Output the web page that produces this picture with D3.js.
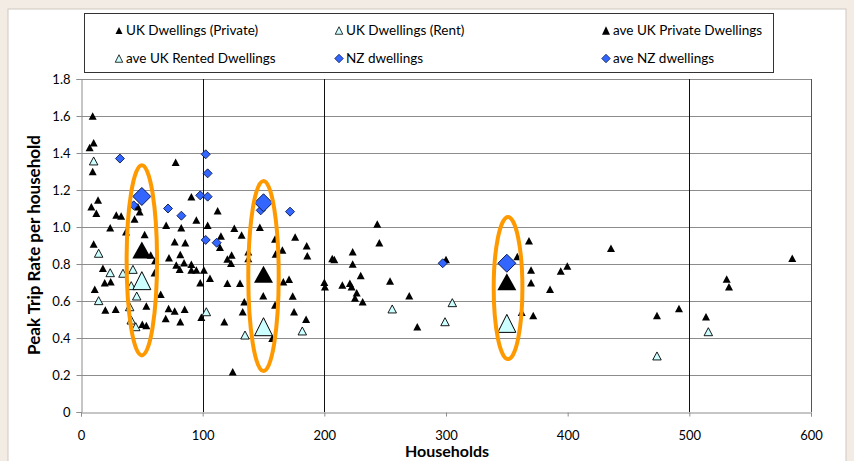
<!DOCTYPE html>
<html><head><meta charset="utf-8">
<script src="https://cdn.jsdelivr.net/npm/d3@7"></script>
<style>
html,body{margin:0;padding:0;background:#f3ece4;}
svg{display:block;font-family:Lato,"Open Sans",sans-serif;}
</style></head>
<body>
<svg id="chart" width="854" height="461"></svg>
<script>
// ---- data ----
const xTicks = [0,100,200,300,400,500,600];
const yTicks = [0,0.2,0.4,0.6,0.8,1.0,1.2,1.4,1.6,1.8];
const dividerLines = [100,200,500,600];

const ukPrivateX = [9.6,10.4,7.1,9.6,77.8,14,8.5,12.6,29,33,24,46.8,48.2,44,52.3,70,82.4,90.7,94.8,37,
 112.3,104.1,126,132,115,114.2,147,159.5,176,185.5,
 10.4,57.3,61,77,85.7,72.3,81.6,78.3,84.7,81.1,90.7,90.7,94.8,101,98,18,19.5,24.4,11.3,20,28.5,53.7,50.4,53.7,60.5,65.5,72,77,85.2,69.6,81.6,98.9,
 123.8,120.3,123.3,137.5,137.5,160,165.5,186,206.5,106,120.3,130.7,166.3,171,149.8,174,134.2,159.5,132.9,175.1,117.8,185,157.2,124.7,200,200.5,
 208.2,223.3,223.3,243.5,245.2,214.8,221,222.4,229.9,226.6,225.2,231.5,254,269.8,276.4,300,358.6,368.2,369.9,369.9,362.2,371.7,385.5,394.3,399.7,
 435.6,584.6,530.7,532.6,473.4,491.5,513.7];
const ukPrivateY = [1.60,1.456,1.43,1.30,1.35,1.146,1.11,1.074,1.065,1.06,0.996,1.11,1.083,1.043,0.96,1.01,0.996,1.164,1.038,0.975,
 1.088,1.01,0.993,0.957,0.951,0.89,0.998,0.935,0.946,0.898,
 0.908,0.849,0.82,0.92,0.915,0.834,0.852,0.795,0.807,0.771,0.798,0.768,0.768,0.768,0.699,0.777,0.699,0.704,0.663,0.551,0.555,0.573,0.474,0.467,0.753,0.636,0.56,0.546,0.555,0.506,0.488,0.512,
 0.849,0.827,0.804,0.866,0.83,0.854,0.876,0.845,0.83,0.723,0.696,0.696,0.704,0.717,0.629,0.627,0.596,0.578,0.542,0.542,0.488,0.501,0.398,0.218,0.701,0.677,
 0.825,0.866,0.80,1.016,0.915,0.686,0.696,0.677,0.738,0.645,0.616,0.596,0.708,0.629,0.461,0.825,0.84,0.926,0.768,0.699,0.539,0.521,0.663,0.762,0.789,
 0.885,0.831,0.719,0.677,0.521,0.56,0.515];

const ukRentX = [10.4,14.5,24,14.5,34.5,42.7,41.3,45.8,40,41.3,45,103,134.8,181.9,255.8,305.2,299.2,515.6,473.4];
const ukRentY = [1.357,0.858,0.753,0.602,0.75,0.771,0.683,0.627,0.569,0.497,0.461,0.542,0.416,0.438,0.557,0.591,0.488,0.434,0.303];

const nzX = [32,43.3,71.5,82.5,102.5,104.1,98,104.1,102.5,111.5,147.7,171.8,297.3];
const nzY = [1.37,1.117,1.10,1.061,1.393,1.29,1.171,1.164,0.93,0.915,1.09,1.083,0.804];

const aveX = [50,150,350];
const avePrivateY = [0.876,0.744,0.704];
const aveRentY = [0.71,0.461,0.479];
const aveNzY = [1.165,1.131,0.804];

// highlight ellipses (data units)
const ringX = [50,150,351];
const ringY = [0.82,0.735,0.67];
const ringHalfH = [0.514,0.514,0.384];
const ringHalfW = [12.5,12.5,11.8];

const legendLabels = ["UK Dwellings (Private)","UK Dwellings (Rent)","ave UK Private Dwellings",
                      "ave UK Rented Dwellings","NZ dwellings","ave NZ dwellings"];

// ---- drawing ----
const svg = d3.select("#chart");
const x = d3.scaleLinear().domain([0,600]).range([81,811]);
const y = d3.scaleLinear().domain([0,1.8]).range([412,79]);

// panel
svg.append("rect").attr("x",8).attr("y",9).attr("width",838).attr("height",460)
  .attr("fill","#fff").attr("stroke","#cfc8c0").attr("stroke-width",1);

// horizontal gridlines
svg.append("g").selectAll("line").data(yTicks.filter(d=>d>0)).join("line")
  .attr("x1",x(0)).attr("x2",x(600)).attr("y1",d=>Math.round(y(d))+0.5).attr("y2",d=>Math.round(y(d))+0.5)
  .attr("stroke","#8c8c8c").attr("stroke-width",1);

// vertical divider lines
svg.append("g").selectAll("line").data(dividerLines).join("line")
  .attr("x1",d=>Math.round(x(d))+0.5).attr("x2",d=>Math.round(x(d))+0.5)
  .attr("y1",y(1.8)).attr("y2",y(0))
  .attr("stroke",d=>d===600?"#555":"#111").attr("stroke-width",1);

// axes
const yAxis = svg.append("g").attr("transform","translate(81.5,0)")
  .call(d3.axisLeft(y).tickValues(yTicks).tickSize(5).tickPadding(6)
    .tickFormat(d=>d===0?"0":d3.format(".1f")(d)));
const xAxis = svg.append("g").attr("transform",`translate(0,${Math.round(y(0))+0.5})`)
  .call(d3.axisBottom(x).tickValues(xTicks).tickSize(4).tickPadding(14).tickFormat(d3.format("d")));
[yAxis,xAxis].forEach(a=>{
  a.select(".domain").attr("stroke","#8c8c8c");
  a.selectAll(".tick line").attr("stroke","#8c8c8c");
  a.selectAll(".tick text").attr("font-size","13px").attr("fill","#000")
   .attr("font-family","Lato,'Open Sans',sans-serif");
});

// axis titles
svg.append("text").attr("x",447).attr("y",457).attr("text-anchor","middle")
  .attr("font-size","16px").attr("font-weight","bold").text("Households");
svg.append("text").attr("transform","translate(40,245) rotate(-90)").attr("text-anchor","middle")
  .attr("font-size","17px").attr("font-weight","bold").text("Peak Trip Rate per household");

// marker paths
function tri(w,h){ return `M0,${-h/2}L${w/2},${h/2}L${-w/2},${h/2}Z`; }
function dia(s){ return `M0,${-s/2}L${s/2},0L0,${s/2}L${-s/2},0Z`; }

const plot = svg.append("g");
const zip = (xs,ys)=>xs.map((v,i)=>({x:v,y:ys[i]}));

plot.append("g").selectAll("path").data(zip(ukPrivateX,ukPrivateY)).join("path")
  .attr("transform",d=>`translate(${x(d.x)},${y(d.y)})`).attr("d",tri(8,7.5)).attr("fill","#000");
plot.append("g").selectAll("path").data(zip(ukRentX,ukRentY)).join("path")
  .attr("transform",d=>`translate(${x(d.x)},${y(d.y)})`).attr("d",tri(8.5,8))
  .attr("fill","#ccffff").attr("stroke","#000").attr("stroke-width",0.9);
plot.append("g").selectAll("path").data(zip(aveX,avePrivateY)).join("path")
  .attr("transform",d=>`translate(${x(d.x)},${y(d.y)})`).attr("d",tri(19,17)).attr("fill","#000");
plot.append("g").selectAll("path").data(zip(aveX,aveRentY)).join("path")
  .attr("transform",d=>`translate(${x(d.x)},${y(d.y)})`).attr("d",tri(18,18))
  .attr("fill","#ccffff").attr("stroke","#000").attr("stroke-width",1);
plot.append("g").selectAll("path").data(zip(nzX,nzY)).join("path")
  .attr("transform",d=>`translate(${x(d.x)},${y(d.y)})`).attr("d",dia(9))
  .attr("fill","#3366ff").attr("stroke","#0a1a50").attr("stroke-width",0.9);
plot.append("g").selectAll("path").data(zip(aveX,aveNzY)).join("path")
  .attr("transform",d=>`translate(${x(d.x)},${y(d.y)})`).attr("d",dia(18))
  .attr("fill","#3366ff").attr("stroke","#0a1a50").attr("stroke-width",1);

// highlight ellipses
plot.append("g").selectAll("ellipse").data(ringX.map((v,i)=>({x:v,y:ringY[i],h:ringHalfH[i],w:ringHalfW[i]}))).join("ellipse")
  .attr("cx",d=>x(d.x)).attr("cy",d=>y(d.y))
  .attr("rx",d=>x(d.w)-x(0)).attr("ry",d=>y(0)-y(d.h))
  .attr("fill","none").attr("stroke","#ff9900").attr("stroke-width",4);

// legend
const lg = svg.append("g");
lg.append("rect").attr("x",84.5).attr("y",13.5).attr("width",689).attr("height",59)
  .attr("fill","#fff").attr("stroke","#333").attr("stroke-width",1);
const legX = [119,339,606];
const legY = [35,63];
const legMarkers = [
  {d:tri(7,7),fill:"#000",stroke:"none"},
  {d:tri(7.5,7.5),fill:"#ccffff",stroke:"#000"},
  {d:tri(8,8.5),fill:"#000",stroke:"none"},
  {d:tri(7.5,7.5),fill:"#ccffff",stroke:"#000"},
  {d:dia(8.5),fill:"#3366ff",stroke:"#0a1a50"},
  {d:dia(8.5),fill:"#3366ff",stroke:"#0a1a50"}
];
legendLabels.forEach((t,i)=>{
  const cx = legX[i%3], cy = legY[Math.floor(i/3)];
  const m = legMarkers[i];
  lg.append("path").attr("transform",`translate(${cx},${cy-4.5})`).attr("d",m.d)
    .attr("fill",m.fill).attr("stroke",m.stroke).attr("stroke-width",0.8);
  lg.append("text").attr("x",cx+7).attr("y",cy).attr("font-size","13.5px").attr("fill","#000").text(t);
});
</script>
</body></html>
